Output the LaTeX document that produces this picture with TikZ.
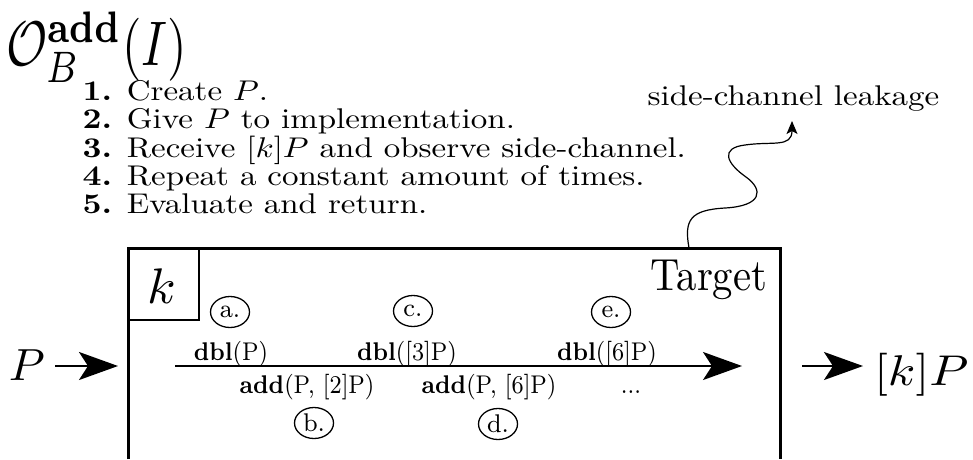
\documentclass[tikz,border=0pt]{standalone}
\usepackage{graphicx}
\usetikzlibrary{arrows.meta,shapes.geometric}
\begin{document}
\begin{tikzpicture}[x=1pt,y=-1pt,
  tx/.style={inner sep=0pt, xscale=3.3, yscale=2.85, font=\fontsize{10}{12}\selectfont},
  lbl/.style={inner sep=0pt, xscale=2.85, yscale=3.2, font=\fontsize{8}{9}\selectfont},
  circ/.style={ellipse, draw, line width=1.3pt, inner sep=0pt, minimum width=39pt, minimum height=31pt, font=\fontsize{8}{9}\selectfont},
  big/.style={line width=2pt, -{Stealth[length=39pt,width=28pt,inset=9pt]}},
  wave/.style={line width=1.2pt, -{Stealth[length=13pt,width=11pt,inset=3pt]}}]
\useasboundingbox (0,0) rectangle (973,459);

% title and list
\node (title) [inner sep=0pt, xscale=5.0, yscale=6.3, font=\fontsize{10}{12}\selectfont, anchor=base west] at (5,65) {$\mathcal{O}_B^{\mathbf{add}}(I)$};
\node (l1) [tx, anchor=base west] at (82,100) {\textbf{1.} Create $P$.};
\node (l2) [tx, anchor=base west] at (82,128) {\textbf{2.} Give $P$ to implementation.};
\node (l3) [tx, anchor=base west] at (82,157) {\textbf{3.} Receive $[k]P$ and observe side-channel.};
\node (l4) [tx, anchor=base west] at (82,185) {\textbf{4.} Repeat a constant amount of times.};
\node (l5) [tx, anchor=base west] at (82,213) {\textbf{5.} Evaluate and return.};

% leakage
\node (leak) [tx, anchor=base west] at (647,105) {side-channel leakage};
\coordinate (w0) at (689,248);
\coordinate (w1) at (792,121);
\draw[wave] (w0) .. controls (684,220) and (690,210) .. (725,208)
  .. controls (762,206) and (764,190) .. (746,177)
  .. controls (726,163) and (720,148) .. (745,145)
  .. controls (772,141) and (792,148) .. (w1);

% target box
\coordinate (bl) at (128,459);
\coordinate (tl) at (128,248);
\coordinate (tr) at (780,248);
\coordinate (br) at (780,459);
\draw[line width=3pt] (bl) -- (tl) -- (tr) -- (br);
\node (kbox) [draw, line width=2pt, inner sep=0pt, minimum width=70pt, minimum height=71pt, anchor=north west] at (128,248) {};
\node (k) [inner sep=0pt, xscale=5.2, yscale=5.0, font=\fontsize{10}{12}\selectfont, anchor=base] at (162,303) {$k$};
\node (tgt) [inner sep=0pt, xscale=4.07, yscale=4.5, font=\fontsize{10}{12}\selectfont, anchor=base east] at (768,290) {Target};

% inner sequence
\coordinate (s0) at (175,366);
\coordinate (s1) at (742,366);
\draw[big] (s0) -- (s1);
\node (da) [lbl, anchor=base] at (231,360) {\textbf{dbl}(P)};
\node (dc) [lbl, anchor=base] at (407,360) {\textbf{dbl}([3]P)};
\node (de) [lbl, anchor=base] at (607,360) {\textbf{dbl}([6]P)};
\node (ab) [lbl, anchor=base] at (307,393) {\textbf{add}(P, [2]P)};
\node (ad) [lbl, anchor=base] at (489,393) {\textbf{add}(P, [6]P)};
\node (dots) [lbl, anchor=base] at (631,393) {...};
\node (ca) [circ] at (230,312) {\scalebox{3.1}[3.2]{a.}};
\node (cc) [circ] at (413,311) {\scalebox{3.1}[3.2]{c.}};
\node (ce) [circ] at (611,312) {\scalebox{3.1}[3.2]{e.}};
\node (cb) [circ] at (314,423) {\scalebox{3.1}[3.2]{b.}};
\node (cd) [circ] at (498,424) {\scalebox{3.1}[3.2]{d.}};

% input / output
\node (pin) [inner sep=0pt, xscale=4.6, yscale=4.5, font=\fontsize{10}{12}\selectfont, anchor=base west] at (8,380) {$P$};
\coordinate (i0) at (55,366);
\coordinate (i1) at (118,366);
\draw[big] (i0) -- (i1);
\coordinate (o0) at (802,366);
\coordinate (o1) at (863,366);
\draw[big] (o0) -- (o1);
\node (kp) [inner sep=0pt, xscale=5.0, yscale=4.3, font=\fontsize{10}{12}\selectfont, anchor=base west] at (873,385) {$[k]P$};
\end{tikzpicture}
\end{document}
